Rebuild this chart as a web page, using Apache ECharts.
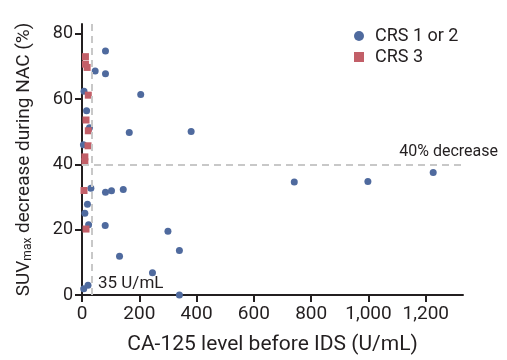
<!DOCTYPE html>
<html>
<head>
<meta charset="utf-8">
<script src="https://cdn.jsdelivr.net/npm/echarts@6/dist/echarts.min.js"></script>
<style>
  html, body { margin: 0; padding: 0; background: #fff; }
  #chart { width: 507px; height: 360px; }
</style>
</head>
<body>
<div id="chart"></div>
<script>
// CRS 1 or 2: [CA-125 (U/mL), SUVmax decrease (%)]
var crs12 = [
  [82, 74.7], [46, 68.6], [82, 67.8], [7, 62.4], [205, 61.4], [16, 56.4],
  [26, 51.2], [165, 49.8], [381, 50.1], [5, 46.0], [31, 32.7], [19, 27.8],
  [10, 25.0], [23, 21.5], [82, 31.5], [103, 31.9], [144, 32.3], [81, 21.3],
  [300, 19.5], [340, 13.6], [131, 11.9], [246, 6.8], [21, 3.0], [6, 1.9],
  [340, 0], [741, 34.6], [998, 34.8], [1226, 37.5]
]
// CRS 3
var crs3 = [
  [12, 73.0], [12, 70.7], [18, 69.7], [22, 61.2], [14, 53.6], [22, 50.3],
  [21, 45.7], [10, 42.3], [10, 40.8], [7, 32.0], [14, 20.2]
]
var cutCA = 35 // U/mL
var cutSUV = 40 // % decrease
var xMax = 1330
var yMax = 83

var font = 'Roboto, sans-serif'
var txt = '#231f20'

var myChart = echarts.init(document.getElementById('chart'))
myChart.setOption({
  animation: false,
  textStyle: { fontFamily: font },
  grid: { left: 82, right: 44, top: 24, bottom: 63 },
  legend: {
    orient: 'vertical',
    left: 349,
    top: 22,
    itemGap: 3,
    itemWidth: 10,
    itemHeight: 10,
    textStyle: { fontSize: 18, color: txt, fontFamily: font, padding: [0, 0, 0, 6] },
    data: [
      { name: 'CRS 1 or 2', icon: 'circle' },
      { name: 'CRS 3', icon: 'rect' }
    ]
  },
  xAxis: {
    type: 'value',
    min: 0,
    max: xMax,
    interval: 200,
    name: 'CA-125 level before IDS (U/mL)',
    nameLocation: 'middle',
    nameGap: 39,
    nameTextStyle: { fontSize: 21, color: txt },
    axisLine: { lineStyle: { color: txt, width: 2 } },
    axisTick: { show: true, length: 7, lineStyle: { color: txt, width: 2 } },
    axisLabel: {
      fontSize: 19, color: txt, margin: 10, showMaxLabel: false,
      formatter: function (v) { return v.toLocaleString('en-US') }
    },
    splitLine: { show: false }
  },
  yAxis: {
    type: 'value',
    min: 0,
    max: yMax,
    interval: 20,
    name: 'SUV{sub|max} decrease during NAC (%)',
    nameLocation: 'middle',
    nameGap: 48,
    nameTextStyle: {
      fontSize: 19, color: txt,
      rich: { sub: { fontSize: 12, color: txt, verticalAlign: 'bottom', padding: [7, 0, 0, 0] } }
    },
    axisLine: { show: true, lineStyle: { color: txt, width: 2 } },
    axisTick: { show: true, length: 7, lineStyle: { color: txt, width: 2 } },
    axisLabel: { fontSize: 18, color: txt, margin: 9, showMaxLabel: false },
    splitLine: { show: false }
  },
  series: [
    {
      name: 'CRS 1 or 2',
      type: 'scatter',
      symbol: 'circle',
      symbolSize: 7,
      itemStyle: { color: '#4f6a9e', opacity: 1 },
      data: crs12,
      z: 3,
      markLine: {
        silent: true,
        symbol: 'none',
        animation: false,
        lineStyle: { color: '#c8c8c8', type: [7, 5], width: 2 },
        label: { show: false },
        data: [
          [{ coord: [cutCA, 0] }, { coord: [cutCA, yMax] }],
          [{ coord: [0, cutSUV] }, { coord: [xMax, cutSUV] }]
        ]
      }
    },
    {
      name: 'CRS 3',
      type: 'scatter',
      symbol: 'rect',
      symbolSize: 7,
      itemStyle: { color: '#c25f68', opacity: 1 },
      data: crs3,
      z: 4
    }
  ]
})

// annotation text placed from data coordinates
var p35 = myChart.convertToPixel({ gridIndex: 0 }, [cutCA, 0])
var p40 = myChart.convertToPixel({ gridIndex: 0 }, [xMax, cutSUV])
myChart.setOption({
  graphic: [
    {
      type: 'text',
      x: p35[0] + 6,
      y: p35[1] - 3,
      style: { text: '35 U/mL', font: '17px ' + font, fill: txt, textAlign: 'left', textVerticalAlign: 'bottom' }
    },
    {
      type: 'text',
      x: p40[0] + 35,
      y: p40[1] - 4,
      style: { text: '40% decrease', font: '16px ' + font, fill: txt, textAlign: 'right', textVerticalAlign: 'bottom' }
    }
  ]
})
</script>
</body>
</html>
